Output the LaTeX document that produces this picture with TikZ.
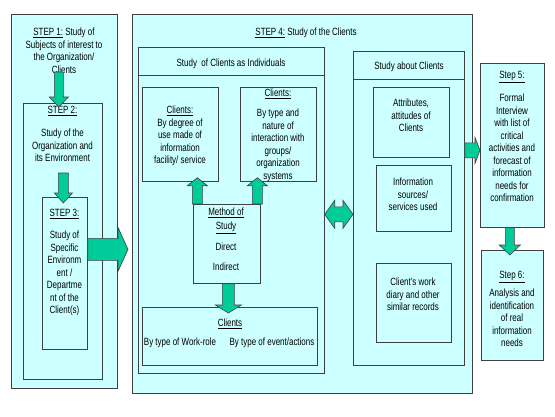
\documentclass[tikz,border=0pt]{standalone}
\usepackage{fontspec}
\setmainfont{Liberation Sans}[FakeStretch=0.76]
\usetikzlibrary{calc}
\definecolor{cyanbg}{HTML}{CCFFFF}
\definecolor{boxgray}{HTML}{404040}
\definecolor{arrgreen}{HTML}{00CC99}
\newcommand{\fs}{\fontsize{10.5}{12.5}\selectfont}
\newcommand{\blockarrow}[5]{%
  \path #4 coordinate (ba-a) #5 coordinate (ba-b);
  \coordinate (ba-h) at ($(ba-b)!#3!(ba-a)$);
  \draw[blockarr] ($(ba-a)!#1!90:(ba-b)$) -- ($(ba-h)!#1!90:(ba-b)$) -- ($(ba-h)!#2!90:(ba-b)$)
    -- (ba-b) -- ($(ba-h)!#2!-90:(ba-b)$) -- ($(ba-h)!#1!-90:(ba-b)$) -- ($(ba-a)!#1!-90:(ba-b)$) -- cycle;}
\newcommand{\dblarrow}[5]{%
  \path #4 coordinate (da-a) #5 coordinate (da-b);
  \coordinate (da-h1) at ($(da-a)!#3!(da-b)$);
  \coordinate (da-h2) at ($(da-b)!#3!(da-a)$);
  \draw[blockarr] (da-a) -- ($(da-h1)!#2!90:(da-b)$) -- ($(da-h1)!#1!90:(da-b)$) -- ($(da-h2)!#1!90:(da-b)$)
    -- ($(da-h2)!#2!90:(da-b)$) -- (da-b) -- ($(da-h2)!#2!-90:(da-b)$) -- ($(da-h2)!#1!-90:(da-b)$)
    -- ($(da-h1)!#1!-90:(da-b)$) -- ($(da-h1)!#2!-90:(da-b)$) -- cycle;}
\tikzset{
  box/.style={rectangle, draw=boxgray, fill=cyanbg, line width=0.7pt, anchor=north west, inner sep=0pt},
  txt/.style={align=center, inner sep=0pt, font=\fs, anchor=north},
  blockarr/.style={draw=boxgray, fill=arrgreen, line width=0.6pt, line join=miter},
}
\begin{document}
\begin{tikzpicture}[x=1pt, y=-1pt]
  \fill[white] (0,0) rectangle (555,416);
  \useasboundingbox (0,0) rectangle (555,416);

  \node[box, minimum width=106pt, minimum height=374pt] (s1) at (11,14) {};
  \node[box, minimum width=79pt, minimum height=276pt] (s2) at (23,103) {};
  \node[box, minimum width=45pt, minimum height=152pt] (s3) at (42,197) {};
  \node[txt] (s1t) at (64,28) {\underline{STEP 1:} Study of\\Subjects of interest to\\the Organization/\\Clients};
  \node[txt] (s2h) at (62.5,106) {\underline{STEP 2:}};
  \node[txt] (s2t) at (62.5,129) {Study of the\\Organization and\\its Environment};
  \node[txt] (s3h) at (64.5,209) {\underline{STEP 3:}};
  \node[txt] (s3t) at (64.5,231) {Study of\\Specific\\Environm\\ent /\\Departme\\nt of the\\Client(s)};

  \node[box, minimum width=340pt, minimum height=379pt] (s4) at (132,14) {};
  \node[txt] (s4h) at (306,28) {\underline{STEP 4:} Study of the Clients};

  \node[box, minimum width=186pt, minimum height=326pt] (ind) at (138,47) {};
  \draw[boxgray, line width=0.7pt] ($(ind.north west)+(0,28)$) -- ($(ind.north east)+(0,28)$);
  \node[txt] (indh) at (231,59) {Study\ \ of Clients as Individuals};
  \node[box, minimum width=76pt, minimum height=94pt] (cl1) at (142,87) {};
  \node[box, minimum width=76pt, minimum height=94pt] (cl2) at (240,87) {};
  \node[box, minimum width=67pt, minimum height=79pt] (meth) at (193,204) {};
  \node[box, minimum width=175pt, minimum height=58pt] (cl3) at (142,307) {};
  \node[txt] (cl1t) at (180,106) {\underline{Clients:}\\By degree of\\use made of\\information\\facility/ service};
  \node[txt] (cl2h) at (278,89) {\underline{Clients:}};
  \node[txt] (cl2t) at (278,109) {By type and\\nature of\\interaction with\\groups/\\organization\\systems};
  \node[txt] (metht) at (226,208) {\underline{Method of}\\[1.5pt]\underline{Study}};
  \node[txt] (dir) at (226,243) {Direct};
  \node[txt] (indir) at (226,263) {Indirect};
  \node[txt] (cl3h) at (230,319) {\underline{Clients}};
  \node[txt] (wr) at (180,338) {By type of Work-role};
  \node[txt] (ev) at (272,338) {By type of event/actions};

  \node[box, minimum width=111pt, minimum height=314pt] (abt) at (353,51) {};
  \draw[boxgray, line width=0.7pt] ($(abt.north west)+(0,28)$) -- ($(abt.north east)+(0,28)$);
  \node[txt] (abth) at (409,62) {Study about Clients};
  \node[box, minimum width=76pt, minimum height=70pt] (attr) at (373,87) {};
  \node[box, minimum width=75pt, minimum height=66pt] (info) at (376,165) {};
  \node[box, minimum width=75pt, minimum height=79pt] (diary) at (376,263) {};
  \node[txt] (attrt) at (411,99) {Attributes,\\attitudes of\\Clients};
  \node[txt] (infot) at (413,178) {Information\\sources/\\services used};
  \node[txt] (diaryt) at (413,278) {Client's work\\diary and other\\similar records};

  \node[box, minimum width=64pt, minimum height=164pt] (s5) at (480,63) {};
  \node[box, minimum width=62pt, minimum height=110pt] (s6) at (481,250) {};
  \node[txt] (s5h) at (512,71) {\underline{Step 5:}};
  \node[txt] (s5t) at (512,94) {Formal\\Interview\\with list of\\critical\\activities and\\forecast of\\information\\needs for\\confirmation};
  \node[txt] (s6h) at (512,271) {\underline{Step 6:}};
  \node[txt] (s6t) at (512,289) {Analysis and\\identification\\of real\\information\\needs};

  \blockarrow{4.5pt}{9.5pt}{10pt}{($(s2.north)+(-4,-31)$)}{($(s2.north)+(-4,4)$)}
  \blockarrow{5pt}{9pt}{10pt}{($(s3.north)+(-1.5,-24)$)}{($(s3.north)+(-1.5,6)$)}
  \blockarrow{11pt}{22pt}{10pt}{($(s3.east)+(0,-24)$)}{($(s3.east -| s4.west)+(-4,-24)$)}
  \blockarrow{5pt}{10pt}{8pt}{($(meth.north)+(-29.5,0)$)}{($(meth.north |- cl1.south)+(-29.5,-4)$)}
  \blockarrow{5pt}{10pt}{8pt}{($(meth.north)+(30.5,0)$)}{($(meth.north |- cl2.south)+(30.5,-4)$)}
  \blockarrow{6pt}{13pt}{8pt}{($(meth.south)+(1.5,0)$)}{($(meth.south |- cl3.north)+(1.5,6)$)}
  \dblarrow{7.5pt}{14pt}{10pt}{($(ind.east)+(0,4)$)}{($(ind.east -| abt.west)+(0,4)$)}
  \blockarrow{7.5pt}{13pt}{5pt}{($(abt.east)+(0,-58)$)}{($(abt.east -| s5.west)+(0,-58)$)}
  \blockarrow{4.5pt}{10.5pt}{10pt}{($(s5.south)+(-2.5,0)$)}{($(s6.north)+(-2.5,5)$)}
\end{tikzpicture}
\end{document}
